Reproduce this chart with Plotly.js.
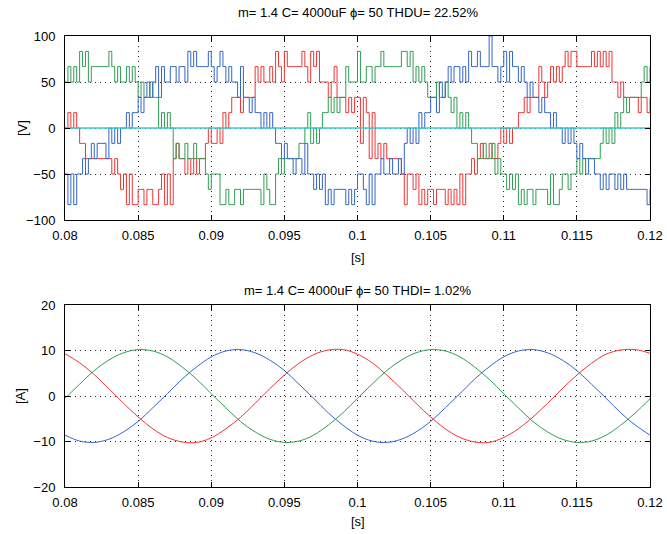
<!DOCTYPE html>
<html>
<head>
<meta charset="utf-8">
<script src="https://cdn.plot.ly/plotly-3.0.1.min.js"></script>
<style>html,body{margin:0;padding:0;background:#fff;}#chart{width:667px;height:534px;}</style>
</head>
<body>
<div id="chart"></div>
<script>
// ---------- data ----------
// Time axis for the voltage traces: start 0.08 s, step 0.0002 s (201 samples)
const tStartV = 0.08;
const tStepV = 0.0002;
// Time axis for the current traces: start 0.08 s, step 0.001 s (41 samples)
const tStartI = 0.08;
const tStepI = 0.001;

const vRed = [0,16.7,0,16.7,0,-16.7,-16.7,-33.3,-33.3,-33.3,
-33.3,-33.3,-33.3,-33.3,-33.3,-33.3,-50,-33.3,-50,-66.7,
-50,-83.3,-50,-83.3,-83.3,-66.7,-66.7,-83.3,-66.7,-66.7,
-83.3,-83.3,-66.7,-50,-83.3,-50,-83.3,-33.3,-16.7,-33.3,
-33.3,-50,-33.3,-50,-33.3,-50,-33.3,-33.3,-16.7,0,
-16.7,-16.7,0,-16.7,16.7,0,16.7,33.3,33.3,33.3,
16.7,33.3,33.3,33.3,33.3,66.7,50,66.7,50,50,
66.7,50,83.3,66.7,50,83.3,66.7,66.7,66.7,66.7,
66.7,83.3,66.7,50,83.3,66.7,83.3,50,50,50,
33.3,50,66.7,33.3,33.3,33.3,16.7,33.3,16.7,33.3,
33.3,-16.7,33.3,16.7,-33.3,16.7,-33.3,-16.7,-33.3,-16.7,
-33.3,-33.3,-33.3,-33.3,-33.3,-50,-83.3,-50,-50,-66.7,
-50,-83.3,-66.7,-83.3,-66.7,-66.7,-83.3,-66.7,-66.7,-66.7,
-83.3,-66.7,-83.3,-66.7,-83.3,-50,-83.3,-50,-50,-33.3,
-50,-33.3,-16.7,-33.3,-33.3,-16.7,-33.3,-33.3,-16.7,0,
-16.7,0,-16.7,0,0,16.7,16.7,33.3,16.7,33.3,
33.3,33.3,66.7,50,33.3,50,66.7,50,66.7,50,
66.7,83.3,66.7,83.3,83.3,66.7,66.7,66.7,66.7,66.7,
83.3,66.7,83.3,66.7,83.3,66.7,83.3,50,50,33.3,
50,33.3,33.3,33.3,33.3,33.3,16.7,33.3,33.3,16.7,
33.3];

const vGreen = [50,66.7,50,66.7,50,83.3,66.7,83.3,50,66.7,
66.7,66.7,66.7,66.7,66.7,83.3,66.7,50,66.7,50,
50,66.7,50,66.7,50,33.3,50,33.3,33.3,50,
33.3,33.3,0,16.7,0,16.7,0,-33.3,-16.7,-33.3,
-33.3,-16.7,-33.3,-33.3,-16.7,-33.3,-33.3,-33.3,-50,-66.7,
-50,-50,-50,-83.3,-83.3,-66.7,-83.3,-83.3,-66.7,-66.7,
-83.3,-66.7,-66.7,-66.7,-66.7,-66.7,-66.7,-83.3,-50,-66.7,
-83.3,-83.3,-50,-33.3,-50,-33.3,-33.3,-33.3,-33.3,-33.3,
-16.7,-16.7,0,16.7,-16.7,0,-16.7,0,16.7,16.7,
33.3,16.7,33.3,16.7,33.3,33.3,66.7,50,50,50,
83.3,50,50,66.7,66.7,50,66.7,66.7,83.3,66.7,
66.7,66.7,66.7,66.7,66.7,83.3,83.3,66.7,83.3,50,
66.7,50,66.7,50,33.3,33.3,33.3,50,33.3,33.3,
50,33.3,16.7,33.3,0,16.7,0,16.7,0,-16.7,
-16.7,-33.3,-33.3,-16.7,-33.3,-33.3,-16.7,-50,-33.3,-50,
-50,-66.7,-50,-66.7,-50,-83.3,-66.7,-83.3,-66.7,-66.7,
-83.3,-66.7,-66.7,-66.7,-66.7,-83.3,-50,-83.3,-83.3,-66.7,
-50,-50,-66.7,-50,-50,-33.3,-50,-33.3,-33.3,-33.3,
-33.3,-33.3,-33.3,-16.7,0,-16.7,0,-16.7,16.7,0,
16.7,33.3,16.7,33.3,33.3,33.3,33.3,50,66.7,50,
66.7];

const vBlue = [-50,-83.3,-50,-83.3,-50,-50,-33.3,-50,-33.3,-16.7,
-33.3,-16.7,-16.7,-16.7,-33.3,0,-16.7,0,-16.7,0,
0,16.7,0,16.7,16.7,33.3,16.7,33.3,50,33.3,
50,66.7,33.3,66.7,50,50,66.7,66.7,50,66.7,
66.7,50,83.3,66.7,83.3,66.7,66.7,66.7,66.7,83.3,
66.7,50,66.7,83.3,66.7,50,66.7,50,50,33.3,
66.7,33.3,33.3,16.7,33.3,16.7,16.7,0,16.7,0,
16.7,0,-16.7,-16.7,-33.3,-16.7,-33.3,-33.3,-50,-33.3,
-33.3,-50,-16.7,-50,-50,-66.7,-50,-66.7,-50,-83.3,
-66.7,-83.3,-66.7,-66.7,-66.7,-66.7,-83.3,-66.7,-83.3,-66.7,
-50,-50,-66.7,-83.3,-50,-83.3,-50,-50,-33.3,-50,
-50,-33.3,-50,-50,-33.3,-50,-16.7,0,-16.7,0,
-16.7,16.7,0,16.7,16.7,33.3,33.3,16.7,50,33.3,
50,66.7,50,66.7,66.7,50,66.7,50,83.3,66.7,
66.7,83.3,66.7,66.7,66.7,100,66.7,66.7,50,66.7,
83.3,50,83.3,66.7,66.7,50,66.7,50,33.3,50,
33.3,33.3,16.7,33.3,16.7,16.7,0,16.7,0,0,
-16.7,0,-16.7,0,-16.7,-33.3,-16.7,-33.3,-50,-33.3,
-33.3,-50,-50,-66.7,-50,-66.7,-50,-50,-66.7,-50,
-66.7,-50,-66.7,-66.7,-66.7,-66.7,-66.7,-66.7,-66.7,-83.3,
-66.7];

// zero reference line in the voltage plot
const zeroT = [0.08, 0.12];
const zeroV = [0, 0];

const iRed = [9.3,7.3,4.7,1.6,-1.6,-4.6,-7.2,-9.1,-10.1,-10.2,
-9.2,-7.2,-4.7,-1.6,1.6,4.6,7.2,9.1,10.1,10.2,
9.2,7.3,4.6,1.6,-1.6,-4.6,-7.2,-9.1,-10.1,-10.2,
-9.1,-7.2,-4.6,-1.6,1.6,4.6,7.2,9.2,10.1,10.2,9.4];
const iGreen = [-0.5,2.6,5.6,7.9,9.5,10.2,9.9,8.6,6.4,3.7,
0.5,-2.6,-5.6,-7.9,-9.5,-10.2,-9.9,-8.6,-6.4,-3.7,
-0.5,2.6,5.6,7.9,9.5,10.2,9.9,8.6,6.4,3.7,
0.5,-2.6,-5.6,-7.9,-9.5,-10.2,-9.9,-8.6,-6.4,-3.7,-0.6];
const iBlue = [-8.6,-9.9,-10.2,-9.5,-7.9,-5.6,-2.6,0.5,3.7,6.4,
8.6,9.9,10.2,9.5,7.9,5.6,2.6,-0.5,-3.7,-6.4,
-8.6,-9.9,-10.2,-9.5,-7.9,-5.6,-2.6,0.5,3.7,6.4,
8.6,9.9,10.2,9.5,7.9,5.6,2.6,-0.5,-3.7,-6.4,-8.6];

const titleV = 'm= 1.4 C= 4000uF ϕ= 50 THDU= 22.52%';
const titleI = 'm= 1.4 C= 4000uF ϕ= 50 THDI= 1.02%';
const xTickVals = [0.08,0.085,0.09,0.095,0.1,0.105,0.11,0.115,0.12];
const xTickText = ['0.08','0.085','0.09','0.095','0.1','0.105','0.11','0.115','0.12'];
const yTickValsV = [-100,-50,0,50,100];
const yTickValsI = [-20,-10,0,10,20];

// ---------- styling ----------
const FONT = '"Liberation Sans", Arial, "DejaVu Sans", sans-serif';
const cRed = '#f03434', cGreen = '#2f9e52', cBlue = '#3366c8', cCyan = '#33cccc';

function vTrace(y, color) {
  return {type:'scatter', mode:'lines', x0:tStartV, dx:tStepV, y:y,
          line:{color:color, width:1, shape:'hv'}, xaxis:'x', yaxis:'y', hoverinfo:'skip'};
}
function iTrace(y, color) {
  return {type:'scatter', mode:'lines', x0:tStartI, dx:tStepI, y:y,
          line:{color:color, width:1, shape:'spline', smoothing:1}, xaxis:'x2', yaxis:'y2', hoverinfo:'skip'};
}

const data = [
  vTrace(vRed, cRed), vTrace(vGreen, cGreen), vTrace(vBlue, cBlue),
  {type:'scatter', mode:'lines', x:zeroT, y:zeroV, line:{color:cCyan, width:1.5}, xaxis:'x', yaxis:'y', hoverinfo:'skip'},
  iTrace(iRed, cRed), iTrace(iGreen, cGreen), iTrace(iBlue, cBlue)
];

const axBase = {
  showline:true, linecolor:'#000', linewidth:1, mirror:'ticks',
  ticks:'inside', ticklen:5, tickcolor:'#000', tickwidth:1,
  showgrid:true, gridcolor:'rgba(0,0,0,0.85)', gridwidth:1, griddash:'1px,4px',
  zeroline:false, tickfont:{family:FONT, size:13, color:'#000'}, fixedrange:true
};
const xAx = {ticklabelstandoff:3};
const yAx = {ticklabelstandoff:6};

const layout = {
  width:667, height:534,
  margin:{l:65, r:17, t:36, b:47},
  paper_bgcolor:'#fff', plot_bgcolor:'#fff',
  showlegend:false,
  font:{family:FONT, size:13, color:'#000'},
  xaxis:Object.assign({}, axBase, xAx, {domain:[0,1], anchor:'y', range:[0.08,0.12], tickvals:xTickVals, ticktext:xTickText}),
  yaxis:Object.assign({}, axBase, yAx, {domain:[0.592,1], anchor:'x', range:[-100,100], tickvals:yTickValsV}),
  xaxis2:Object.assign({}, axBase, xAx, {domain:[0,1], anchor:'y2', range:[0.08,0.12], tickvals:xTickVals, ticktext:xTickText}),
  yaxis2:Object.assign({}, axBase, yAx, {domain:[0,0.4035], anchor:'x2', range:[-20,20], tickvals:yTickValsI}),
  annotations:[
    {text:titleV, xref:'paper', yref:'paper', x:0.5, y:1.0532, xanchor:'center', yanchor:'middle', showarrow:false, font:{family:FONT, size:13, color:'#000'}},
    {text:titleI, xref:'paper', yref:'paper', x:0.5, y:0.4368, xanchor:'center', yanchor:'middle', showarrow:false, font:{family:FONT, size:13, color:'#000'}},
    {text:'[V]', xref:'paper', yref:'paper', x:-0.0735, y:0.796, xanchor:'center', yanchor:'middle', textangle:-90, showarrow:false, font:{family:FONT, size:13, color:'#000'}},
    {text:'[A]', xref:'paper', yref:'paper', x:-0.0752, y:0.2018, xanchor:'center', yanchor:'middle', textangle:-90, showarrow:false, font:{family:FONT, size:13, color:'#000'}},
    {text:'[s]', xref:'paper', yref:'paper', x:0.5, y:0.5078, xanchor:'center', yanchor:'middle', showarrow:false, font:{family:FONT, size:13, color:'#000'}},
    {text:'[s]', xref:'paper', yref:'paper', x:0.5, y:-0.0776, xanchor:'center', yanchor:'middle', showarrow:false, font:{family:FONT, size:13, color:'#000'}}
  ]
};

Plotly.newPlot('chart', data, layout, {displayModeBar:false, staticPlot:true});
</script>
</body>
</html>
